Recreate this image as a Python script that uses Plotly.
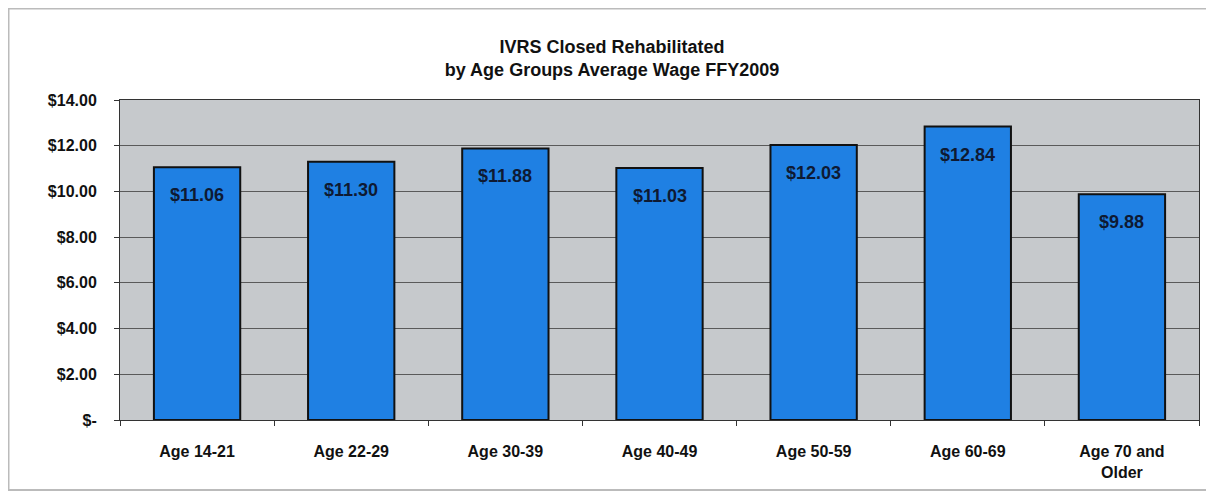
import plotly.graph_objects as go

categories = ["Age 14-21", "Age 22-29", "Age 30-39", "Age 40-49",
              "Age 50-59", "Age 60-69", "Age 70 and<br>Older"]
wages = [11.06, 11.30, 11.88, 11.03, 12.03, 12.84, 9.88]
tick_vals = [0, 2, 4, 6, 8, 10, 12, 14]
tick_text = ["$-", "$2.00", "$4.00", "$6.00", "$8.00", "$10.00", "$12.00", "$14.00"]

# the page body adds an 8px margin, so the figure is drawn 8px smaller
W, H = 1206, 487
L, R, T, B = 112, 15, 92, 75
pw = W - L - R
ph = H - T - B

fig = go.Figure(go.Bar(
    x=categories,
    y=wages,
    marker=dict(color="#1f80e3", line=dict(color="#111111", width=2)),
    hoverinfo="x+y",
))

# value labels a little below the top of each bar
for c, v in zip(categories, wages):
    fig.add_annotation(
        x=c, y=v, text="<b>$%.2f</b>" % v, showarrow=False,
        yanchor="middle", yshift=-28,
        font=dict(size=18, color="#0e1a33", family="Arial, Liberation Sans, sans-serif"),
    )

fig.update_layout(
    width=W, height=H,
    margin=dict(l=L, r=R, t=T, b=B),
    paper_bgcolor="white",
    plot_bgcolor="#c6c9cc",
    bargap=0.44,
    showlegend=False,
    font=dict(family="Arial, Liberation Sans, sans-serif", color="#111"),
    title=dict(
        text="<b>IVRS Closed Rehabilitated<br>by Age Groups Average Wage FFY2009</b>",
        x=604 / W, xanchor="center", y=1 - 45 / H, yanchor="middle",
        font=dict(size=18, color="#111"),
    ),
)

fig.update_xaxes(
    tickfont=dict(size=16),
    tickprefix="<b>", ticksuffix="</b>",
    showline=True, linecolor="#333", linewidth=1, mirror=True,
    ticks="outside", ticklen=5, tickcolor="#333",
    tickson="boundaries",
    ticklabelstandoff=17,
    automargin=False,
)
fig.update_yaxes(
    range=[0, 14],
    tickvals=tick_vals,
    ticktext=["<b>%s</b>" % t for t in tick_text],
    tickfont=dict(size=16),
    showgrid=True, gridcolor="#5a5a5a", gridwidth=1,
    showline=True, linecolor="#333", linewidth=1, mirror=True,
    ticks="outside", ticklen=5, tickcolor="#333",
    ticklabelstandoff=14,
    zeroline=False,
    automargin=False,
)

# light frame round the whole chart
fig.add_shape(
    type="rect", xref="paper", yref="paper",
    x0=(0.5 - L) / pw, x1=(W + 20 - L) / pw,
    y0=(H - B - 482) / ph, y1=(H - B - 0.5) / ph,
    line=dict(color="#bbbbbb", width=2), layer="below",
)

fig.write_html("out.html")
